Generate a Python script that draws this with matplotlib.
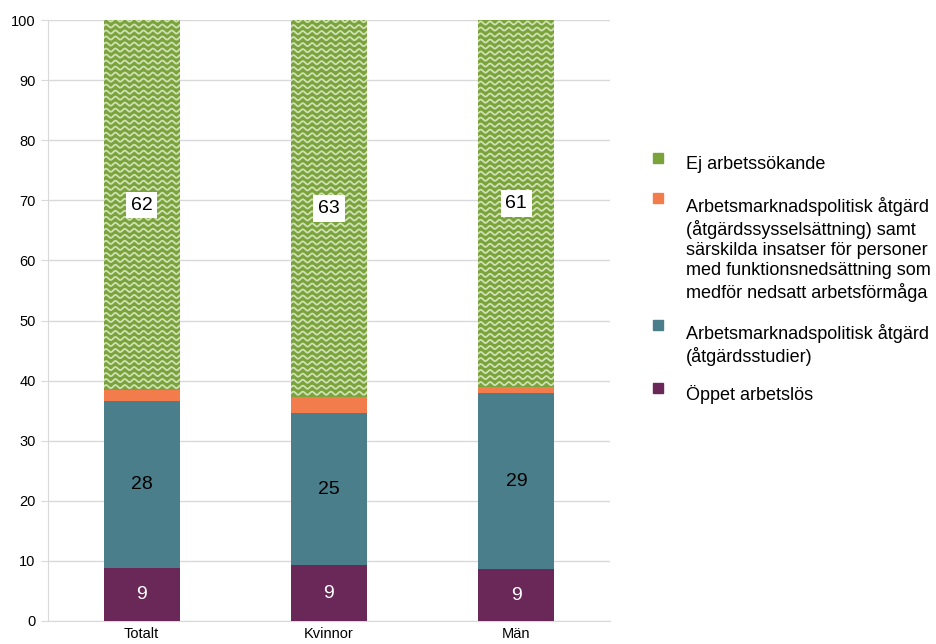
import numpy as np
import matplotlib
matplotlib.use("Agg")
import matplotlib.pyplot as plt
from matplotlib.patches import Rectangle

plt.rcParams['font.family'] = ['Liberation Sans', 'DejaVu Sans']

categories = ["Totalt", "Kvinnor", "Män"]
oppet = [8.8, 9.3, 8.6]
studier = [27.8, 25.3, 29.3]
syssels = [1.8, 2.7, 1.0]
ej_sok = [61.6, 62.7, 61.1]

series_names = [
    "Ej arbetssökande",
    "Arbetsmarknadspolitisk åtgärd\n(åtgärdssysselsättning) samt\nsärskilda insatser för personer\nmed funktionsnedsättning som\nmedför nedsatt arbetsförmåga",
    "Arbetsmarknadspolitisk åtgärd\n(åtgärdsstudier)",
    "Öppet arbetslös",
]

c_green = "#7aa33c"
c_orange = "#f27c4b"
c_teal = "#4a7e8a"
c_purple = "#6a2859"
colors = [c_green, c_orange, c_teal, c_purple]

fig = plt.figure(figsize=(9.36, 6.44), dpi=100)
ax = fig.add_axes([48 / 936, 23 / 644, 562 / 936, 601 / 644])

x = np.arange(len(categories))
w = 0.405

b1 = ax.bar(x, oppet, w, color=c_purple, zorder=3)
b2 = ax.bar(x, studier, w, bottom=oppet, color=c_teal, zorder=3)
bot3 = np.array(oppet) + np.array(studier)
b3 = ax.bar(x, syssels, w, bottom=bot3, color=c_orange, zorder=3)
bot4 = bot3 + np.array(syssels)
b4 = ax.bar(x, ej_sok, w, bottom=bot4, color=c_green, zorder=3)

# wavy pattern in the green part
period = 0.05
for rect in b4:
    x0 = rect.get_x()
    xx = np.linspace(x0, x0 + rect.get_width(), 300)
    y_start = rect.get_y()
    for yr in np.arange(y_start + 0.6, 101, 1.0):
        yy = yr + 0.26 * np.sin(2 * np.pi * (xx - x0) / period)
        ln, = ax.plot(xx, yy, color="#cfe1b4", lw=1.3, zorder=4)
        ln.set_clip_path(rect)

# value labels
for i in range(len(categories)):
    ax.text(x[i], oppet[i] / 2, f"{round(oppet[i])}", ha="center", va="center",
            color="white", fontsize=14, zorder=5)
    ax.text(x[i], oppet[i] + studier[i] / 2, f"{round(studier[i])}", ha="center",
            va="center", color="black", fontsize=14, zorder=5)
    ax.text(x[i], bot4[i] + ej_sok[i] / 2, f"{round(ej_sok[i])}", ha="center",
            va="center", color="black", fontsize=14, zorder=5,
            bbox=dict(boxstyle="square,pad=0.25", fc="white", ec="none"))

ax.set_xlim(-0.5, 2.5)
ax.set_ylim(0, 100)
ax.set_yticks(np.arange(0, 101, 10))
ax.set_xticks(x)
ax.set_xticklabels(categories)
ax.grid(axis="y", color="#d9d9d9", lw=1, zorder=0)
for s in ["top", "right"]:
    ax.spines[s].set_visible(False)
ax.spines["left"].set_color("#d9d9d9")
ax.spines["bottom"].set_color("#d9d9d9")
ax.tick_params(axis="y", length=5, color="#d9d9d9", labelsize=10.5, pad=4)
ax.tick_params(axis="x", length=0, labelsize=10.5, pad=4)

# legend drawn by hand so markers sit at the first line
text_tops = [156, 197, 324, 385]
marker_tops = [153, 193, 320, 383]
for name, col, top, mtop in zip(series_names, colors, text_tops, marker_tops):
    fig.text(686 / 936, 1 - top / 644, name, ha="left", va="top",
             fontsize=13, linespacing=1.25)
    fig.patches.append(Rectangle((653 / 936, 1 - (mtop + 10) / 644), 10 / 936, 10 / 644,
                                 transform=fig.transFigure, color=col))

fig.savefig("out.png", dpi=100)
